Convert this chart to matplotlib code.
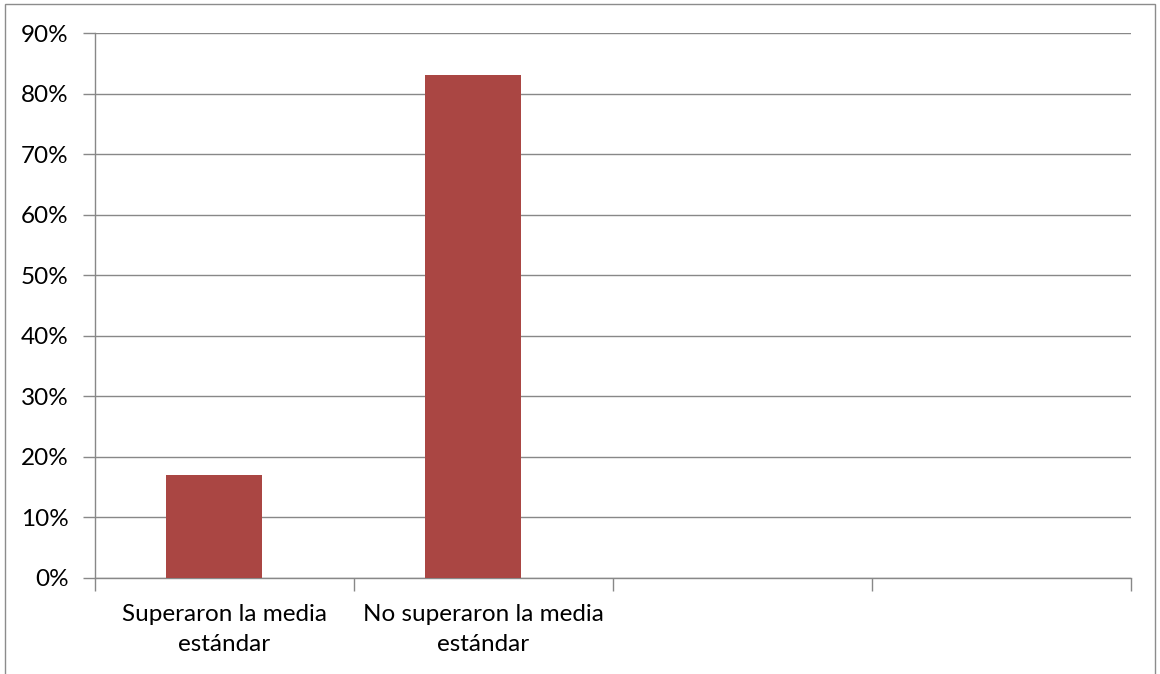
import matplotlib
matplotlib.use("Agg")
import matplotlib.pyplot as plt
from matplotlib.patches import Rectangle
import numpy as np

categories = ["Superaron la media\nestándar", "No superaron la media\nestándar", "", ""]
values = [17, 83]
yticks = [0, 10, 20, 30, 40, 50, 60, 70, 80, 90]

plt.rcParams['font.family'] = ['Lato', 'DejaVu Sans']

W, H = 1160, 674
fig = plt.figure(figsize=(W / 100, H / 100), dpi=100)
ax = fig.add_axes([95 / W, 1 - 578 / H, (1131 - 95) / W, (578 - 33) / H])

grid_c = '#888888'
bar_c = '#AA4643'
fs = 17.5

n = len(categories)
pos = np.arange(len(values)) + 0.5 - 0.039
ax.bar(pos, values, width=0.37, color=bar_c, zorder=3)

ax.set_xlim(0, n)
ax.set_ylim(0, 90)
ax.set_yticks(yticks)
ax.set_yticklabels([f"{v}%" for v in yticks], fontsize=fs)
ax.yaxis.grid(True, color=grid_c, linewidth=1.0, zorder=0)
ax.set_xticks(np.arange(n + 1))
ax.set_xticklabels([])
ax.set_xticks(np.arange(n) + 0.5, minor=True)
ax.set_xticklabels(categories, minor=True, fontsize=fs, linespacing=1.5)
ax.tick_params(axis='x', which='minor', length=0, pad=19)
ax.tick_params(axis='x', which='major', length=9, color=grid_c, width=1.0, direction='out')
ax.tick_params(axis='y', length=9, color=grid_c, width=1.0, pad=10, direction='out')

for s in ['top', 'right']:
    ax.spines[s].set_visible(False)
for s in ['left', 'bottom']:
    ax.spines[s].set_color(grid_c)
    ax.spines[s].set_linewidth(1.0)

fig.patches.append(Rectangle((5 / W, -0.01), (1155 - 5) / W, 1 - 4 / H + 0.01,
                             transform=fig.transFigure, fill=False,
                             edgecolor='#8c8c8c', linewidth=1.0))

fig.savefig("out.png", dpi=100)
